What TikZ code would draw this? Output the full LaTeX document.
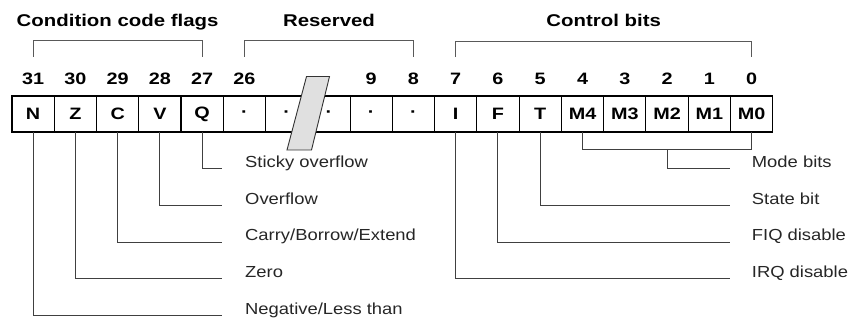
\documentclass[tikz,border=0pt]{standalone}
\usepackage{fontspec}
\setmainfont{Liberation Sans}
\newfontfamily\bitfont[FakeStretch=1.2]{Liberation Sans}
\newfontfamily\descfont[FakeStretch=1.15]{Liberation Sans}
\usepackage{tikz}
\usetikzlibrary{positioning}

\begin{document}
\begin{tikzpicture}[x=1pt, y=1pt, node distance=0pt and 0pt,
    cell/.style={draw, line width=1.1pt, minimum width=42.26pt, minimum height=36pt, inner sep=0pt, outer sep=0pt, font=\bitfont\bfseries\fontsize{16.5}{18}\selectfont},
    bitnum/.style={inner sep=0pt, font=\bitfont\bfseries\fontsize{16.5}{18}\selectfont},
    head/.style={anchor=base, inner sep=0pt, font=\bitfont\bfseries\fontsize{17}{20}\selectfont},
    bracket/.style={draw=black!65, line width=1pt},
    leader/.style={draw=black!75, line width=1pt},
    desc/.style={anchor=base west, inner sep=0pt, text=black!85, font=\descfont\fontsize{16}{18}\selectfont},
    slash/.style={draw=black!80, fill=black!12, line width=0.9pt}]
    \useasboundingbox (0,0) rectangle (849,320);

    % Register cells
    \node[cell] (b31) at (33.13,206) {N};
    \node[cell, right=of b31] (b30) {Z};
    \node[cell, right=of b30] (b29) {C};
    \node[cell, right=of b29] (b28) {V};
    \node[cell, right=of b28] (b27) {Q};
    \node[cell, right=of b27] (b26) {·};
    \node[cell, right=of b26] (bx) {·};
    \node[cell, right=of bx] (by) {·};
    \node[cell, right=of by] (b9) {·};
    \node[cell, right=of b9] (b8) {·};
    \node[cell, right=of b8] (b7) {I};
    \node[cell, right=of b7] (b6) {F};
    \node[cell, right=of b6] (b5) {T};
    \node[cell, right=of b5] (b4) {M4};
    \node[cell, right=of b4] (b3) {M3};
    \node[cell, right=of b3] (b2) {M2};
    \node[cell, right=of b2] (b1) {M1};
    \node[cell, right=of b1] (b0) {M0};

    % Bit numbers
    \node[bitnum, above=11pt of b31] (num31) {31};
    \node[bitnum, above=11pt of b30] (num30) {30};
    \node[bitnum, above=11pt of b29] (num29) {29};
    \node[bitnum, above=11pt of b28] (num28) {28};
    \node[bitnum, above=11pt of b27] (num27) {27};
    \node[bitnum, above=11pt of b26] (num26) {26};
    \node[bitnum, above=11pt of b9] (num9) {9};
    \node[bitnum, above=11pt of b8] (num8) {8};
    \node[bitnum, above=11pt of b7] (num7) {7};
    \node[bitnum, above=11pt of b6] (num6) {6};
    \node[bitnum, above=11pt of b5] (num5) {5};
    \node[bitnum, above=11pt of b4] (num4) {4};
    \node[bitnum, above=11pt of b3] (num3) {3};
    \node[bitnum, above=11pt of b2] (num2) {2};
    \node[bitnum, above=11pt of b1] (num1) {1};
    \node[bitnum, above=11pt of b0] (num0) {0};

    % Fields
    \draw[bracket] ([yshift=16pt]num31.north) -- ++(0,16) -| ([yshift=16pt]num27.north);
    \draw[bracket] ([yshift=16pt]num26.north) -- ++(0,16) -| ([yshift=16pt]num8.north);
    \draw[bracket] ([yshift=16pt]num7.north) -- ++(0,16) -| ([yshift=16pt]num0.north);
    \node[head] (flagshead) at (117.6,293.3) {Condition code flags};
    \node[head] (reshead) at (329,293.3) {Reserved};
    \node[head] (ctrlhead) at (603.7,293.3) {Control bits};

    % Break in the reserved bits
    \draw[slash] (306.5,243.5) -- (329.5,243.5) -- (311.5,170) -- (287,170) -- cycle;

    % Flag descriptions
    \coordinate (qend) at (222,151);
    \coordinate (vend) at (222,114.3);
    \coordinate (cend) at (222,77.7);
    \coordinate (zend) at (222,41);
    \coordinate (nend) at (222,4.3);
    \draw[leader] (b27.south) |- (qend);
    \draw[leader] (b28.south) |- (vend);
    \draw[leader] (b29.south) |- (cend);
    \draw[leader] (b30.south) |- (zend);
    \draw[leader] (b31.south) |- (nend);
    \node[desc] (sticky) at ([shift={(23,1.3)}]qend) {Sticky overflow};
    \node[desc] (overflow) at ([shift={(23,1.3)}]vend) {Overflow};
    \node[desc] (carry) at ([shift={(23,1.3)}]cend) {Carry/Borrow/Extend};
    \node[desc] (zero) at ([shift={(23,1.3)}]zend) {Zero};
    \node[desc] (negative) at ([shift={(23,1.3)}]nend) {Negative/Less than};

    % Control descriptions
    \coordinate (modeend) at (730,151);
    \coordinate (tend) at (730,114.3);
    \coordinate (fend) at (730,77.7);
    \coordinate (iend) at (730,41);
    \draw[leader] (b4.south) -- ++(0,-18) -| (b0.south);
    \draw[leader] ([yshift=-18pt]b2.south) |- (modeend);
    \draw[leader] (b5.south) |- (tend);
    \draw[leader] (b6.south) |- (fend);
    \draw[leader] (b7.south) |- (iend);
    \node[desc] (modebits) at ([shift={(21.7,1.3)}]modeend) {Mode bits};
    \node[desc] (statebit) at ([shift={(21.7,1.3)}]tend) {State bit};
    \node[desc] (fiq) at ([shift={(21.7,1.3)}]fend) {FIQ disable};
    \node[desc] (irq) at ([shift={(21.7,1.3)}]iend) {IRQ disable};
\end{tikzpicture}
\end{document}
